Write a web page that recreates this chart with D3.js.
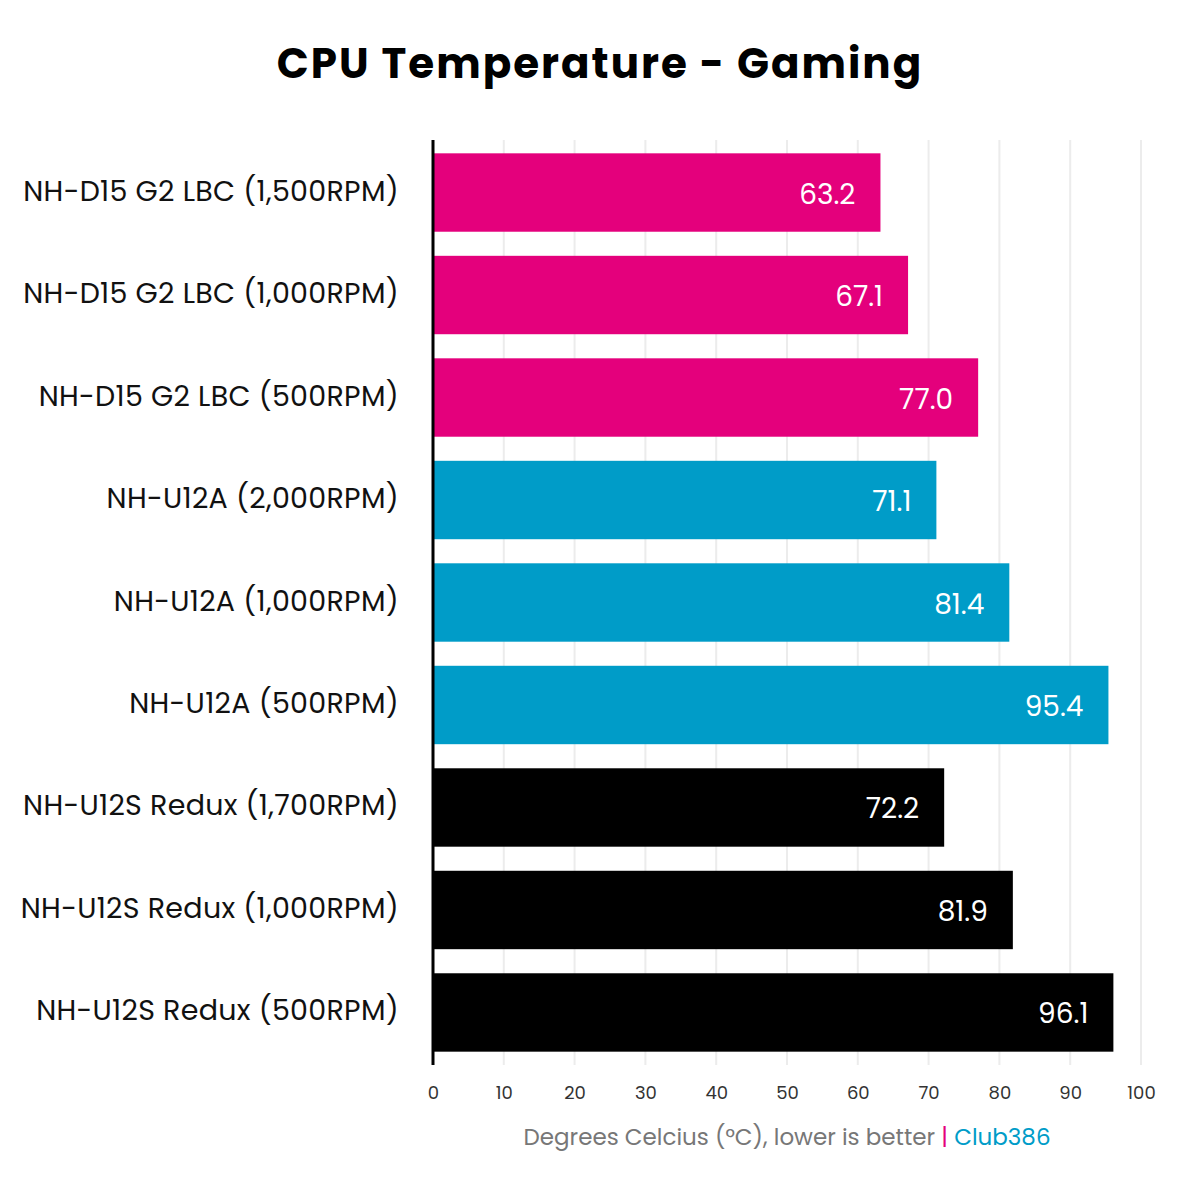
<!DOCTYPE html>
<html><head><meta charset="utf-8">
<script src="https://cdn.jsdelivr.net/npm/d3@7"></script>
<style>body{margin:0;background:#fff}</style>
</head><body>
<svg id="c" width="1200" height="1200"></svg>
<script>
const categories = ["NH-D15 G2 LBC (1,500RPM)","NH-D15 G2 LBC (1,000RPM)","NH-D15 G2 LBC (500RPM)","NH-U12A (2,000RPM)","NH-U12A (1,000RPM)","NH-U12A (500RPM)","NH-U12S Redux (1,700RPM)","NH-U12S Redux (1,000RPM)","NH-U12S Redux (500RPM)"];
const values = [63.2,67.1,77.0,71.1,81.4,95.4,72.2,81.9,96.1];
const groups = ["d15","d15","d15","u12a","u12a","u12a","u12s","u12s","u12s"];
const ticks = [0,10,20,30,40,50,60,70,80,90,100];
const colors = {d15:"#E4007C",u12a:"#009CC8",u12s:"#000000"};
const font = "Poppins, Lato, 'Noto Sans', sans-serif";

const svg = d3.select("#c");
const x = d3.scaleLinear().domain([0,100]).range([433,1141]);
const y = d3.scaleBand().domain(categories).range([140,1065]).paddingInner(0.235).paddingOuter(0.13);

svg.append("text").attr("x",600).attr("y",78).attr("text-anchor","middle")
  .attr("font-family",font).attr("font-weight","700").attr("font-size",42).attr("letter-spacing",2).text("CPU Temperature - Gaming");

svg.append("g").selectAll("line").data(ticks.slice(1)).join("line")
  .attr("x1",d=>x(d)).attr("x2",d=>x(d)).attr("y1",140).attr("y2",1065)
  .attr("stroke","#ececec").attr("stroke-width",2);

svg.append("g").selectAll("rect").data(values).join("rect")
  .attr("x",x(0)).attr("y",(d,i)=>y(categories[i])).attr("height",y.bandwidth())
  .attr("width",d=>x(d)-x(0)).attr("fill",(d,i)=>colors[groups[i]]);

svg.append("g").selectAll("text").data(values).join("text")
  .attr("x",d=>x(d)-25).attr("y",(d,i)=>y(categories[i])+y.bandwidth()/2+11)
  .attr("text-anchor","end").attr("fill","#fff").attr("font-family",font).attr("font-size",28)
  .text(d=>d.toFixed(1));

svg.append("g").selectAll("text").data(categories).join("text")
  .attr("x",399).attr("y",d=>y(d)+y.bandwidth()/2+8).attr("text-anchor","end")
  .attr("font-family",font).attr("font-size",28.5).attr("letter-spacing",0.3).attr("fill","#111").text(d=>d);

svg.append("line").attr("x1",x(0)).attr("x2",x(0)).attr("y1",140).attr("y2",1065).attr("stroke","#000").attr("stroke-width",3);

const ax = svg.append("g").attr("transform","translate(0,1072)")
  .call(d3.axisBottom(x).tickValues(ticks).tickSize(0).tickPadding(14));
ax.select(".domain").remove();
ax.selectAll("text").attr("font-family",font).attr("font-size",18).attr("fill","#333");

const t = svg.append("text").attr("x",787).attr("y",1145).attr("text-anchor","middle")
  .attr("font-family",font).attr("font-size",23);
t.append("tspan").attr("fill","#777").text("Degrees Celcius (\u00B0C), lower is better ");
t.append("tspan").attr("fill","#E4007C").text("| ");
t.append("tspan").attr("fill","#009CC8").text("Club386");
</script>
</body></html>
